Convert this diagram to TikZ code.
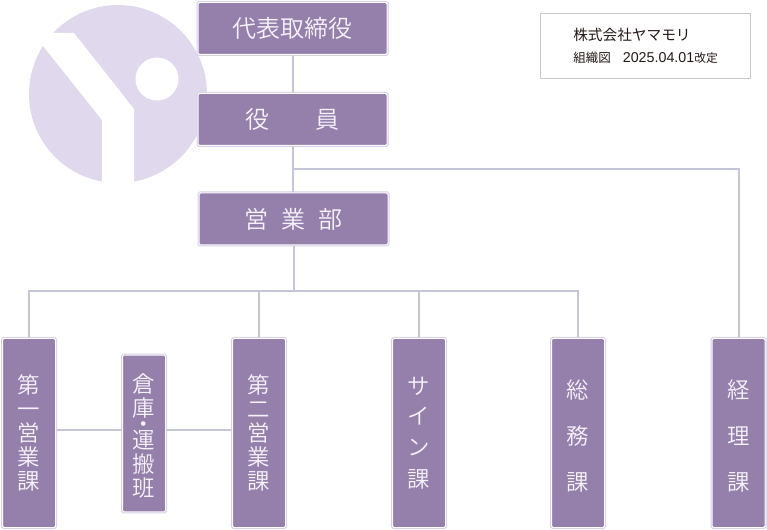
\documentclass[tikz,border=0pt]{standalone}
\usepackage{fontspec}
\newfontfamily\jp{Noto Sans CJK JP DemiLight}
\newfontfamily\jpr{Noto Sans CJK JP}
\newfontfamily\lat{Liberation Sans}
\newcommand{\dropline}{\rule{0pt}{18pt}}
\definecolor{boxfill}{HTML}{9580AC}
\definecolor{boxedge}{HTML}{D6CEE6}
\definecolor{linkcol}{HTML}{C6C6DA}
\definecolor{logocol}{HTML}{E0D8EC}
\definecolor{captionedge}{HTML}{C8C8C8}
\definecolor{captiontext}{HTML}{231815}
\definecolor{labelcol}{HTML}{F6F2FA}
\tikzset{
  orgbox/.style={draw=white,line width=0.75pt,fill=boxfill,rounded corners=1pt,
    preaction={draw=boxedge,line width=2.25pt,rounded corners=1pt},
    outer sep=1.1pt,inner sep=0pt,text=labelcol,align=center},
  hbox/.style={orgbox,minimum width=141.75pt,minimum height=39pt,font=\jp\fontsize{18}{18}\selectfont},
  vbox/.style={orgbox,minimum width=39.75pt,minimum height=141.75pt,font=\jp\fontsize{16.8}{18}\selectfont},
  link/.style={draw=linkcol,line width=1.5pt},
  captiontxt/.style={anchor=west,inner sep=0pt,text=captiontext}
}
\begin{document}
\begin{tikzpicture}[x=0.75pt,y=-0.75pt]
\useasboundingbox (0,0) rectangle (767,530);
% logo
\fill[logocol] (118,94) circle[radius=89];
\fill[white] (33,33) -- (74,33) -- (134,109) -- (134,190) -- (102,190) -- (102,120) -- (43,46) -- cycle;
\fill[white] (157,79) circle[radius=21.5];
% nodes
\node[hbox] (ceo) at (292.5,28.5) {代表取締役};
\node[hbox] (yaku) at (292.5,119.5) {役\hspace{35pt}員};
\node[hbox] (eigyo) at (293.5,219) {営\hspace{10pt}業\hspace{10pt}部};
\node[vbox] (dai1) at (29,433) {第\\一\\営\\業\\課};
\node[orgbox,minimum width=32.25pt,minimum height=117.5pt,font=\jp\fontsize{16.8}{18}\selectfont] (souko) at (144,433.5) {\dropline 倉\\庫\\[-6pt]・\\[-6pt]運\\搬\\班};
\node[vbox] (dai2) at (259,433) {第\\二\\営\\業\\課};
\node[vbox] (sign) at (419,433) {サ\\[5pt]イ\\[5pt]ン\\[6pt]課};
\node[vbox] (soumu) at (578,433) {\dropline 総\\[16.5pt]務\\[16.5pt]課};
\node[vbox] (keiri) at (738.5,433) {\dropline 経\\[16.5pt]理\\[16.5pt]課};
% caption
\node[draw=captionedge,line width=0.9pt,fill=white,minimum width=157.5pt,minimum height=48.5pt,inner sep=0pt] (capbox) at (645.25,46) {};
\node[captiontxt,font=\jpr\fontsize{11}{11}\selectfont] (cap1) at (573,34.5) {株式会社ヤマモリ};
\node[captiontxt,font=\jpr\fontsize{9.4}{11}\selectfont] (cap2) at (573,58) {組織図\hspace{9pt}{\lat\fontsize{10.7}{11}\selectfont 2025.04.01}{\fontsize{8.8}{11}\selectfont 改定}};
% connectors
\coordinate (h1) at (0,169);
\coordinate (h2) at (0,291);
\coordinate (h3) at (0,430.5);
\coordinate (j1) at (yaku.south |- h1);
\coordinate (j2) at (eigyo.south |- h2);
\draw[link] (ceo) -- (yaku);
\draw[link] (yaku.south) -- (yaku.south |- eigyo.north);
\draw[link] (j1) -| (keiri.north);
\draw[link] (eigyo.south) -- (j2);
\draw[link] (j2) -| (dai1.north);
\draw[link] (dai2.north) -- (dai2.north |- j2);
\draw[link] (sign.north) -- (sign.north |- j2);
\draw[link] (j2) -| (soumu.north);
\draw[link] (dai1.east |- h3) -- (souko.west |- h3);
\draw[link] (souko.east |- h3) -- (dai2.west |- h3);
\end{tikzpicture}
\end{document}
